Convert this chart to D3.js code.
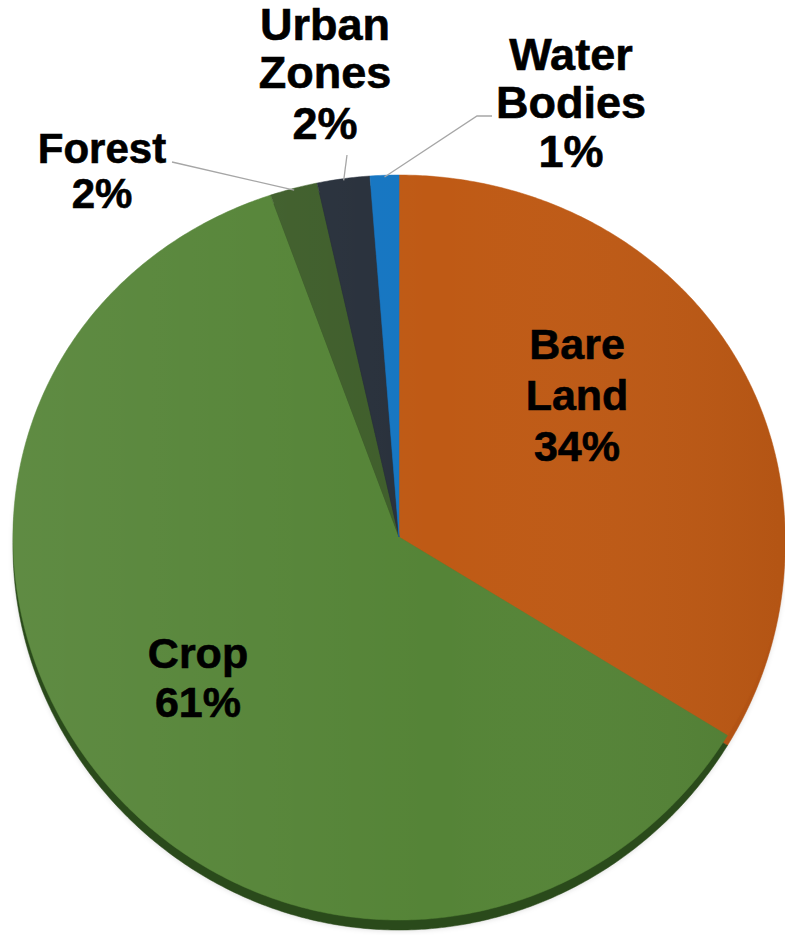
<!DOCTYPE html>
<html>
<head>
<meta charset="utf-8">
<script src="https://cdn.jsdelivr.net/npm/d3@7"></script>
<style>
  body { margin: 0; background: #fff; }
  svg { display: block; }
</style>
</head>
<body>
<div id="chart"></div>
<script>
// land cover shares (%)
const categories = ["Bare Land", "Crop", "Forest", "Urban Zones", "Water Bodies"];
const shares = [33.8, 60.8, 2.0, 2.2, 1.2];
const colors = ["#BF5A15", "#558437", "#3F5E2B", "#29313C", "#1676C2"];
const sideColors = ["#B25314", "#2A4A1B", "#26391A", "#181D24", "#0E4B7C"];

let width = 785;
let height = 935;

let svg = d3.select("#chart").append("svg")
    .attr("width", width)
    .attr("height", height)
    .style("font-family", "'Liberation Sans', Arial, sans-serif");

// tilted pie: x is linear, y has a slight perspective (front looks bigger)
let cx = 399, rx = 386;
let cy = 537, ky = 372.2, persp = 0.0282;

let xscale = d3.scaleLinear().domain([-1, 1]).range([cx - rx, cx + rx]);
let yproj = v => cy + ky * v / (1 - persp * v);

function project(a, r) {
    return [xscale(r * Math.sin(a)), yproj(-r * Math.cos(a))];
}

let pie = d3.pie().sort(null).value(d => d)(shares);
let line = d3.line();

function slicePath(d, dy) {
    let step = Math.PI / 360;
    let angles = d3.range(d.startAngle, d.endAngle, step).concat([d.endAngle]);
    let pts = [project(0, 0)].concat(angles.map(a => project(a, 1)));
    return line(pts.map(p => [p[0], p[1] + dy])) + "Z";
}

let defs = svg.append("defs");
let blur = defs.append("filter").attr("id", "soft")
    .attr("x", "-10%").attr("y", "-10%").attr("width", "120%").attr("height", "120%");
blur.append("feGaussianBlur").attr("stdDeviation", 2.5);

let shade = defs.append("linearGradient").attr("id", "shade")
    .attr("x1", "0").attr("x2", "1").attr("y1", "0").attr("y2", "0");
shade.append("stop").attr("offset", "0%").attr("stop-color", "#fff").attr("stop-opacity", 0.06);
shade.append("stop").attr("offset", "55%").attr("stop-color", "#fff").attr("stop-opacity", 0);
shade.append("stop").attr("offset", "100%").attr("stop-color", "#000").attr("stop-opacity", 0.06);

let depth = 10;

// soft drop shadow
svg.append("g").attr("filter", "url(#soft)")
    .selectAll("path").data(pie).enter().append("path")
    .attr("d", d => slicePath(d, depth + 1))
    .attr("fill", "#000").attr("fill-opacity", 0.12);

// side of the disc
svg.append("g").selectAll("path").data(pie).enter().append("path")
    .attr("d", d => slicePath(d, depth))
    .attr("fill", (d, i) => sideColors[i])
    .attr("stroke", (d, i) => sideColors[i]).attr("stroke-width", 0.5);

// top face
svg.append("g").selectAll("path").data(pie).enter().append("path")
    .attr("d", d => slicePath(d, 0))
    .attr("fill", (d, i) => colors[i])
    .attr("stroke", (d, i) => colors[i]).attr("stroke-width", 0.5);

// subtle lighting on the face
let whole = { startAngle: 0, endAngle: 2 * Math.PI };
svg.append("path").attr("d", slicePath(whole, 0)).attr("fill", "url(#shade)");

// leader lines for the small slices
let leaders = [
    { i: 2, from: [[172, 162]] },
    { i: 3, from: [[347, 155]] },
    { i: 4, from: [[492, 116], [477, 116]] }
];
leaders.forEach(l => {
    let d = pie[l.i];
    let mid = (d.startAngle + d.endAngle) / 2;
    let pts = l.from.concat([project(mid, 0.995)]);
    svg.append("path").attr("d", line(pts))
        .attr("fill", "none").attr("stroke", "#A6A6A6").attr("stroke-width", 1.3);
});

// labels
let labelLines = [["Bare", "Land"], ["Crop"], ["Forest"], ["Urban", "Zones"], ["Water", "Bodies"]];
let labelPos = [
    { x: 577, y: [359, 410, 461], size: 43 },
    { x: 198, y: [668, 717], size: 43 },
    { x: 102, y: [163, 208], size: 42 },
    { x: 325, y: [40, 88, 139], size: 45 },
    { x: 571, y: [70, 118, 167], size: 45 }
];

categories.forEach((c, i) => {
    let p = labelPos[i];
    let txt = labelLines[i].concat([Math.round(shares[i]) + "%"]);
    let t = svg.append("text")
        .attr("text-anchor", "middle")
        .attr("font-weight", "bold")
        .attr("font-size", p.size)
        .attr("fill", "#000")
        .attr("stroke", "#000").attr("stroke-width", 0.6);
    txt.forEach((s, j) => {
        t.append("tspan").attr("x", p.x).attr("y", p.y[j]).text(s);
    });
});
</script>
</body>
</html>
